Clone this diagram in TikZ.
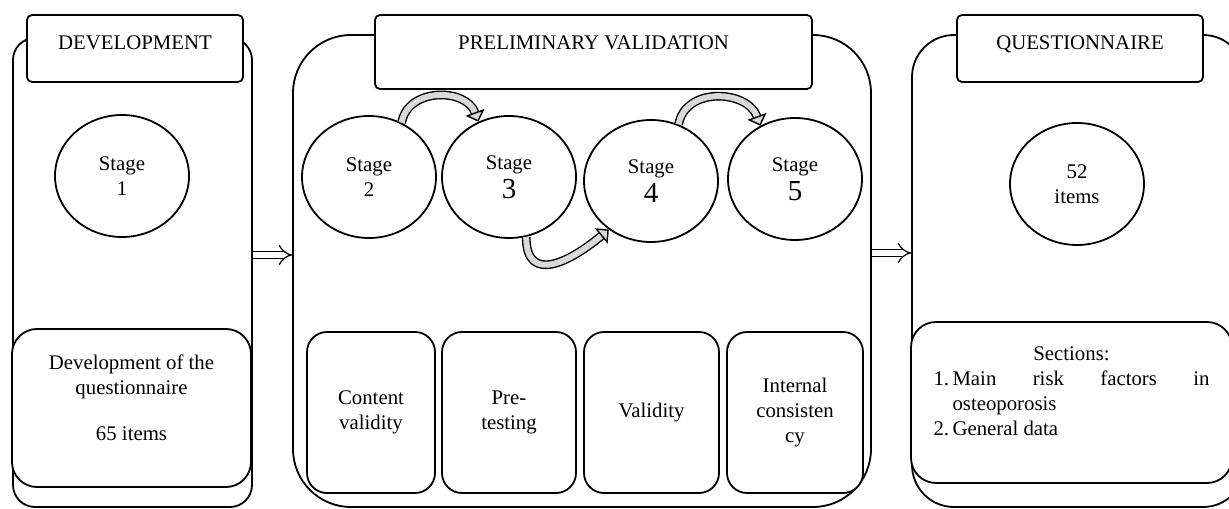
\documentclass[tikz,border=0pt]{standalone}
\usepackage{fontspec}
\setmainfont{Liberation Serif}
\usetikzlibrary{shapes.geometric, arrows.meta}

\newcommand{\bignum}[1]{{\fontsize{14.5}{14.5}\selectfont #1}}

\begin{document}
\begin{tikzpicture}[x=0.5pt, y=0.5pt, line width=0.9pt, font=\fontsize{10.4}{12.5}\selectfont,
    panel/.style={draw, rounded corners=#1, inner sep=0pt},
    head/.style={draw, fill=white, rounded corners=2.5pt, inner sep=0pt, minimum height=33.5pt},
    stage/.style={draw, ellipse, fill=white, inner sep=0pt, minimum width=67pt, minimum height=61pt, align=center},
    task/.style={draw, fill=white, rounded corners=10pt, inner sep=2pt, minimum height=80.5pt, align=center},
    block/.style={draw, fill=white, rounded corners=12.5pt, inner sep=0pt, align=center},
    dbl/.style={double, double distance=3pt, line width=0.6pt, -{Implies[scale=1.5]}},
    bendarrow/.style={double=gray!30, double distance=3pt, line width=0.7pt, -{Triangle[open, fill=gray!30, length=5pt, width=10pt]}}]
      \useasboundingbox (0,0) rectangle (1229,508);
      \clip (0,0) rectangle (1229,508);

      % 1. development
      \node[panel=11pt, minimum width=119.5pt, minimum height=234.5pt] (dev) at (132.5,235.5) {};
      \node[head, minimum width=108pt, text depth=5.5pt] (devhead) at (135,459.5) {DEVELOPMENT};
      \node[stage] (s1) at (122,332) {Stage\\1};
      \node[block, minimum width=119.5pt, minimum height=79pt] (devbox) at (131.5,100)
        {Development of the\\questionnaire\\[10.5pt]65 items\\[-2.5pt]\mbox{}};

      % 2. preliminary validation
      \node[panel=29pt, minimum width=289pt, minimum height=236pt] (pre) at (582,237) {};
      \node[head, minimum width=218.5pt, minimum height=37pt, text depth=9pt] (prehead) at (593.5,456) {PRELIMINARY VALIDATION};
      \node[stage] (s2) at (369,331) {Stage\\2};
      \node[stage] (s3) at (509,331) {Stage\\[2pt]\bignum{3}};
      \node[stage] (s4) at (651,327) {Stage\\[2pt]\bignum{4}};
      \node[stage] (s5) at (795,329) {Stage\\[2pt]\bignum{5}};
      \node[task, minimum width=64pt] (t2) at (371,95.5) {Content\\validity};
      \node[task, minimum width=67pt] (t3) at (509,95.5) {Pre-\\testing};
      \node[task, minimum width=67.5pt] (t4) at (651.5,95.5) {Validity};
      \node[task, minimum width=68pt] (t5) at (795,95.5) {Internal\\consisten\\cy};

      % 3. questionnaire
      \node[panel=21pt, minimum width=166.5pt, minimum height=236pt] (que) at (1078.5,237) {};
      \node[head, minimum width=123pt, text depth=5.5pt] (quehead) at (1080,459.5) {QUESTIONNAIRE};
      \node[stage] (items) at (1077,324) {52\\items};
      \node[block, minimum width=160.5pt, minimum height=80.5pt] (quebox) at (1071.5,105.5)
        {\makebox[138pt]{Sections:}\\
         \makebox[138pt][s]{\makebox[9.5pt][l]{1.}Main risk factors in}\\
         \makebox[138pt][l]{\hspace{9.5pt}osteoporosis}\\
         \makebox[138pt][l]{\makebox[9.5pt][l]{2.}General data}\\[-1pt]\mbox{}};

      % 4. arrows
      \draw[dbl] (dev.east |- 0,253) -- (pre.west |- 0,253);
      \draw[dbl] (pre.east |- 0,255) -- (que.west |- 0,255);
      \draw[bendarrow] (s2.59) to[out=80, in=110, looseness=1.2] (s3.119);
      \draw[bendarrow] (s4.64) to[out=80, in=110, looseness=1.2] (s5.123);
      \draw[bendarrow] (s3.-74) to[out=-90, in=-140, looseness=1.5] (s4.-131);
    \end{tikzpicture}
\end{document}
